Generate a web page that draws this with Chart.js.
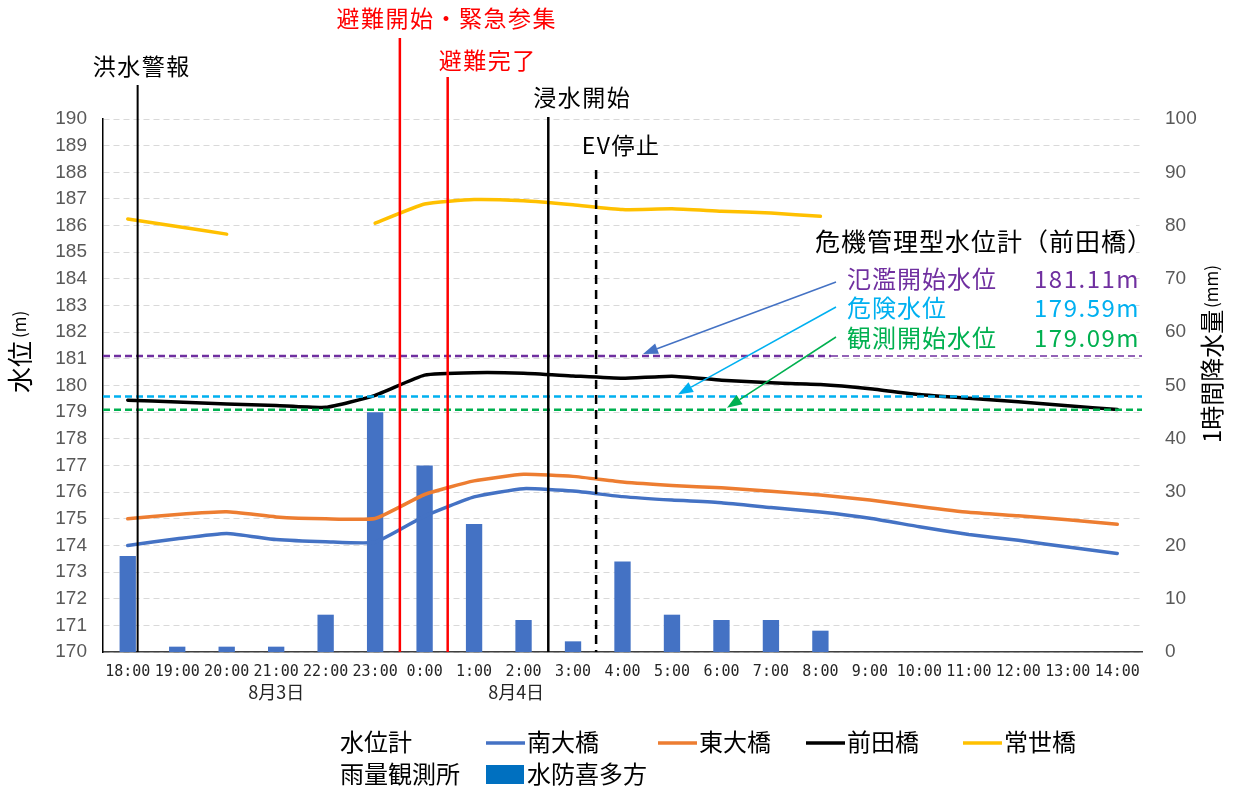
<!DOCTYPE html>
<html>
<head>
<meta charset="utf-8">
<script src="https://cdn.jsdelivr.net/npm/chart.js@4.4.1/dist/chart.umd.min.js"></script>
<style>
  html, body { margin: 0; padding: 0; background: #fff; }
</style>
</head>
<body>
<canvas id="chart" width="1233" height="789"></canvas>
<script>
// hourly observations, 8/3 18:00 .. 8/4 14:00
var hours = ['18:00', '19:00', '20:00', '21:00', '22:00', '23:00', '0:00', '1:00', '2:00', '3:00', '4:00',
             '5:00', '6:00', '7:00', '8:00', '9:00', '10:00', '11:00', '12:00', '13:00', '14:00'];

// water level (m)
var minamiOhashi  = [174.0, 174.25, 174.45, 174.22, 174.14, 174.12, 175.1, 175.82, 176.13, 176.04, 175.83,
                     175.7, 175.6, 175.42, 175.25, 175.02, 174.7, 174.41, 174.19, 173.94, 173.7];
var higashiOhashi = [175.0, 175.16, 175.26, 175.07, 175.0, 175.01, 175.91, 176.42, 176.67, 176.59, 176.38,
                     176.25, 176.16, 176.03, 175.89, 175.7, 175.46, 175.24, 175.11, 174.96, 174.79];
var maedabashi    = [179.45, 179.38, 179.31, 179.25, 179.18, 179.63, 180.39, 180.48, 180.46, 180.36, 180.27,
                     180.35, 180.2, 180.1, 180.04, 179.88, 179.66, 179.52, 179.39, 179.24, 179.1];
var tokoyobashi   = [186.25, 185.97, 185.68, null, null, 186.09, 186.81, 186.98, 186.93, 186.78, 186.6,
                     186.63, 186.54, 186.47, 186.35, null, null, null, null, null, null];

// hourly rainfall (mm)
var rainKitakata  = [18, 1, 1, 1, 7, 45, 35, 24, 6, 2, 17, 7, 6, 6, 4, 0, 0, 0, 0, 0, 0];

// reference levels of the 前田橋 gauge
var levelNames  = ['氾濫開始水位', '危険水位', '観測開始水位'];
var levelValues = [181.11, 179.59, 179.09];
var levelColors = ['#7030A0', '#00B0F0', '#00B050'];

// events, minutes after 18:00
var eventNames   = ['洪水警報', '避難開始・緊急参集', '避難完了', '浸水開始', 'EV停止'];
var eventMinutes = [12, 330, 388, 510, 568];

var dates = [['8月3日', 3], ['8月4日', 7.85]];

var JP = '"Noto Sans CJK JP", "Noto Sans", sans-serif';
var NUM = '"Liberation Sans Narrow", "Liberation Sans", sans-serif';

function text(ctx, s, x, y, font, color, align, spacing) {
  ctx.font = font;
  ctx.fillStyle = color;
  ctx.textAlign = align || 'left';
  ctx.textBaseline = 'middle';
  ctx.letterSpacing = (spacing || 0) + 'px';
  ctx.fillText(s, x, y);
  ctx.letterSpacing = '0px';
}

function arrow(ctx, x1, y1, x2, y2, color) {
  var ang = Math.atan2(y2 - y1, x2 - x1), len = 15, half = 5.5;
  var bx = x2 - len * Math.cos(ang), by = y2 - len * Math.sin(ang);
  ctx.strokeStyle = color;
  ctx.fillStyle = color;
  ctx.lineWidth = 1.5;
  ctx.setLineDash([]);
  ctx.beginPath();
  ctx.moveTo(x1, y1);
  ctx.lineTo(bx, by);
  ctx.stroke();
  ctx.beginPath();
  ctx.moveTo(x2, y2);
  ctx.lineTo(bx + half * Math.sin(ang), by - half * Math.cos(ang));
  ctx.lineTo(bx - half * Math.sin(ang), by + half * Math.cos(ang));
  ctx.closePath();
  ctx.fill();
}

function hline(ctx, x1, x2, y, color, width, dash) {
  ctx.strokeStyle = color;
  ctx.lineWidth = width;
  ctx.setLineDash(dash || []);
  ctx.beginPath();
  ctx.moveTo(x1, y);
  ctx.lineTo(x2, y);
  ctx.stroke();
}

var decor = {
  id: 'decor',
  afterDatasetsDraw: function(chart) {
    var ctx = chart.ctx, area = chart.chartArea;
    var xs = chart.scales.x, ys = chart.scales.y;
    ctx.save();

    // box behind the gauge note
    ctx.fillStyle = '#fff';
    ctx.fillRect(801, 221, 335, 131);

    // reference levels
    var py = ys.getPixelForValue(levelValues[0]);
    hline(ctx, area.left, 831, py, levelColors[0], 2.5, [7, 4]);
    hline(ctx, 831, area.right, py, levelColors[0], 1.5, [7, 4]);
    for (var i = 1; i < levelValues.length; i++) {
      hline(ctx, area.left, area.right, ys.getPixelForValue(levelValues[i]), levelColors[i], 2.5, [7, 4]);
    }

    // event markers
    var marks = [
      { color: '#000', width: 2,   top: 85,  dash: [],     dx: 4,  ly: 66 },
      { color: '#f00', width: 2.5, top: 38,  dash: [],     dx: 47, ly: 18 },
      { color: '#f00', width: 2.5, top: 77,  dash: [],     dx: 40, ly: 60 },
      { color: '#000', width: 2.5, top: 117, dash: [],     dx: 34, ly: 97 },
      { color: '#000', width: 2.5, top: 170, dash: [9, 6], dx: 25, ly: 145 }
    ];
    eventNames.forEach(function(name, i) {
      var m = marks[i];
      var ex = xs.getPixelForValue(eventMinutes[i] / 60);
      ctx.strokeStyle = m.color;
      ctx.lineWidth = m.width;
      ctx.setLineDash(m.dash);
      ctx.beginPath();
      ctx.moveTo(ex, m.top);
      ctx.lineTo(ex, area.bottom);
      ctx.stroke();
      text(ctx, name, ex + m.dx, m.ly, '23px ' + JP, m.color, 'center', 1.5);
    });

    // gauge note with arrows to each level
    text(ctx, '危機管理型水位計（前田橋）', 815, 241, '25px ' + JP, '#000', 'left', 1);
    var rowY = [279, 308, 338];
    var tipX = [643, 678, 727];
    var arrowColors = ['#4472C4', '#00B0F0', '#00B050'];
    levelNames.forEach(function(name, i) {
      text(ctx, name, 847, rowY[i], '24px ' + JP, levelColors[i], 'left', 1);
      text(ctx, levelValues[i].toFixed(2) + 'm', 1140, rowY[i], '24px ' + JP, levelColors[i], 'right', 1.5);
      arrow(ctx, 836, rowY[i] - 1 + (i === 0 ? 4 : 0), tipX[i], ys.getPixelForValue(levelValues[i]) - 2, arrowColors[i]);
    });

    ctx.restore();
  },
  afterDraw: function(chart) {
    var ctx = chart.ctx, xs = chart.scales.x;
    ctx.save();

    // date under the hour labels
    dates.forEach(function(d) {
      text(ctx, d[0], xs.getPixelForValue(d[1]), 692, '18px ' + JP, '#262626', 'center');
    });

    // axis titles, both read bottom to top
    ctx.save();
    ctx.translate(20, 341);
    ctx.rotate(-Math.PI / 2);
    text(ctx, '水位', 0, 0, '26px ' + JP, '#000', 'right');
    text(ctx, '(m)', 3, 0, '17px ' + JP, '#000', 'left');
    ctx.restore();

    ctx.save();
    ctx.translate(1212, 443);
    ctx.rotate(-Math.PI / 2);
    text(ctx, '1時間降水量', 0, 0, '24px ' + JP, '#000', 'left');
    text(ctx, '(mm)', 135, 0, '17px ' + JP, '#000', 'left');
    ctx.restore();

    // legend
    var ds = chart.data.datasets;
    text(ctx, '水位計', 340, 742, '24px ' + JP, '#000', 'left');
    var lx = [486, 658, 806, 963];
    for (var i = 1; i <= 4; i++) {
      hline(ctx, lx[i - 1], lx[i - 1] + 39, 743, ds[i].borderColor, 3.5, []);
      text(ctx, ds[i].label, lx[i - 1] + 41, 742, '24px ' + JP, '#000', 'left');
    }
    text(ctx, '雨量観測所', 340, 774, '24px ' + JP, '#000', 'left');
    ctx.fillStyle = '#0070C0';
    ctx.fillRect(486, 765, 38, 19);
    text(ctx, ds[0].label, 527, 774, '24px ' + JP, '#000', 'left');

    ctx.restore();
  }
};

function lineSet(label, data, color) {
  return {
    type: 'line', label: label, data: data, yAxisID: 'y',
    borderColor: color, backgroundColor: color, borderWidth: 3.5,
    pointRadius: 0, tension: 0.15, spanGaps: false, order: 1,
    borderCapStyle: 'round', borderJoinStyle: 'round'
  };
}

new Chart(document.getElementById('chart'), {
  type: 'bar',
  data: {
    labels: hours,
    datasets: [
      { type: 'bar', label: '水防喜多方', data: rainKitakata, yAxisID: 'y2',
        backgroundColor: '#4472C4', barPercentage: 0.33, categoryPercentage: 1, order: 10 },
      lineSet('南大橋', minamiOhashi, '#4472C4'),
      lineSet('東大橋', higashiOhashi, '#ED7D31'),
      lineSet('前田橋', maedabashi, '#000000'),
      lineSet('常世橋', tokoyobashi, '#FFC000')
    ]
  },
  options: {
    responsive: false,
    devicePixelRatio: 1,
    animation: false,
    layout: { padding: { top: 119, left: 0, right: 0, bottom: 0 } },
    plugins: { legend: { display: false }, tooltip: { enabled: false } },
    scales: {
      x: {
        offset: true,
        grid: { display: false, drawTicks: false },
        border: { display: true, color: '#404040', width: 1.5 },
        ticks: { font: { family: '"DejaVu Sans Mono", monospace', size: 15 }, color: '#262626',
                 padding: 11, maxRotation: 0, autoSkip: false },
        afterFit: function(s) { s.height = 137; }
      },
      y: {
        position: 'left', min: 170, max: 190,
        ticks: { stepSize: 1, autoSkip: false, font: { family: NUM, size: 19 }, color: '#595959', padding: 16 },
        grid: { color: '#D9D9D9', lineWidth: 1, drawTicks: false },
        border: { display: true, color: '#000', width: 1.5, dash: [6, 4] },
        afterFit: function(s) { s.width = 103; }
      },
      y2: {
        position: 'right', min: 0, max: 100,
        ticks: { stepSize: 10, autoSkip: false, font: { family: NUM, size: 19 }, color: '#595959', padding: 23 },
        grid: { display: false, drawTicks: false },
        border: { display: false },
        afterFit: function(s) { s.width = 91; }
      }
    }
  },
  plugins: [decor]
});
</script>
</body>
</html>
